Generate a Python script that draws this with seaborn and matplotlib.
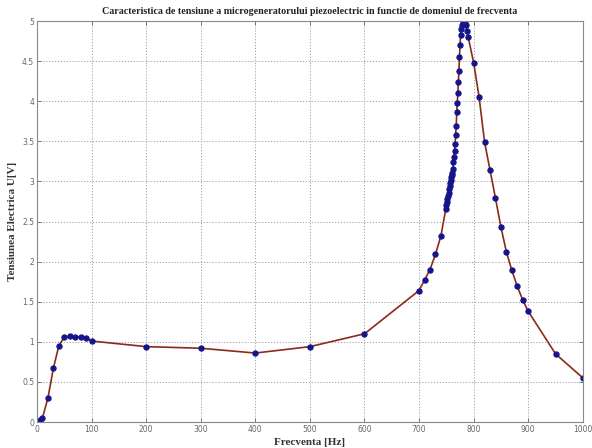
import matplotlib
matplotlib.use("Agg")
import matplotlib.pyplot as plt
import seaborn as sns
import pandas as pd
from matplotlib.ticker import FormatStrFormatter

# Frequency [Hz]
freq = [5, 10, 20, 30, 40, 50, 60, 70, 80, 90, 100,
        200, 300, 400, 500, 600, 700, 710, 720, 730, 740,
        749, 750, 751, 752, 753, 754, 755, 756, 757, 758, 759, 760,
        761, 762, 763, 764, 765, 766, 767, 768, 769, 770, 771, 772,
        773, 774, 775, 776, 777, 778, 780, 782, 784, 786, 788, 790,
        800, 810, 820, 830, 840, 850, 860, 870, 880, 890, 900, 950, 1000]
# Voltage [V]
volt = [0.02, 0.05, 0.30, 0.67, 0.95, 1.06, 1.07, 1.06, 1.06, 1.05, 1.01,
        0.94, 0.92, 0.86, 0.94, 1.10, 1.64, 1.77, 1.90, 2.09, 2.32,
        2.66, 2.70, 2.74, 2.78, 2.82, 2.86, 2.90, 2.94, 2.98, 3.02, 3.05, 3.08,
        3.11, 3.16, 3.24, 3.31, 3.38, 3.47, 3.58, 3.69, 3.86, 3.98, 4.10, 4.24,
        4.38, 4.55, 4.70, 4.82, 4.90, 4.95, 4.98, 5.00, 5.00, 4.95, 4.88, 4.80,
        4.48, 4.05, 3.49, 3.14, 2.79, 2.43, 2.12, 1.89, 1.69, 1.52, 1.38, 0.85, 0.55]

x_ticks = [0, 100, 200, 300, 400, 500, 600, 700, 800, 900, 1000]
y_ticks = [0, 0.5, 1, 1.5, 2, 2.5, 3, 3.5, 4, 4.5, 5]

title = "Caracteristica de tensiune a microgeneratorului piezoelectric in functie de domeniul de frecventa"
xlabel = "Frecventa [Hz]"
ylabel = "Tensiunea Electrica U[V]"

df = pd.DataFrame({"f": freq, "u": volt})

sns.set_style("ticks")
plt.rcParams["font.family"] = ["DejaVu Sans"]

fig = plt.figure(figsize=(5.92, 4.48), dpi=100)
ax = fig.add_axes([0.0625, 0.058, 0.922, 0.895])

sns.lineplot(data=df, x="f", y="u", ax=ax, color="#8a2a1a", linewidth=1.2,
             marker="o", markersize=3.8, markerfacecolor="#14148c",
             markeredgecolor="#14148c", sort=False, estimator=None)

ax.set_xlim(0, 1000)
ax.set_ylim(0, 5)
ax.set_xticks(x_ticks)
ax.set_yticks(y_ticks)
ax.yaxis.set_major_formatter(FormatStrFormatter("%g"))
ax.grid(True, color="#a0a0a0", linestyle=(0, (1.2, 1.8)), linewidth=0.7)
ax.tick_params(direction="in", length=3, width=0.6, labelsize=5.5,
               colors="#666666", labelcolor="#666666", pad=2, top=True, right=True)
for s in ax.spines.values():
    s.set_color("#888888")
    s.set_linewidth(0.8)

serif = ["Liberation Serif", "DejaVu Serif"]
ax.set_title(title, family=serif, fontsize=7.2, fontweight="bold", color="#222222", pad=5)
ax.set_xlabel(xlabel, family=serif, fontsize=8, fontweight="bold", color="#333333", labelpad=3)
ax.set_ylabel(ylabel, family=serif, fontsize=8, fontweight="bold", color="#333333", labelpad=4)

fig.savefig("out.png", dpi=100, facecolor="white")
